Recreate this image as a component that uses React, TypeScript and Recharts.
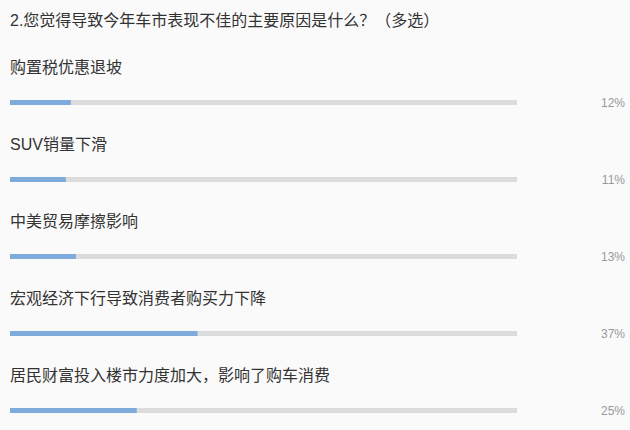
import { BarChart, Bar, XAxis, YAxis, LabelList } from 'recharts'

const categories = [
  '购置税优惠退坡',
  'SUV销量下滑',
  '中美贸易摩擦影响',
  '宏观经济下行导致消费者购买力下降',
  '居民财富投入楼市力度加大，影响了购车消费',
]
const shares = [12, 11, 13, 37, 25]
const title = '2.您觉得导致今年车市表现不佳的主要原因是什么？（多选）'

const data = categories.map((name, i) => ({ name, value: shares[i] }))

const CJK = 'Arial, "Liberation Sans", "Noto Sans CJK SC", sans-serif'

const NameLabel = (props: any) => {
  const { x, y, height, value } = props
  return (
    <text x={x} y={y + height / 2 - 30} fontSize={16} fill="#333" fontFamily={CJK}>
      {value}
    </text>
  )
}

const PctLabel = (props: any) => {
  const { y, height, value } = props
  return (
    <text
      x={625}
      y={y + height / 2 + 4}
      fontSize={12}
      fill="#999"
      textAnchor="end"
      fontFamily='Arial, "Liberation Sans", sans-serif'
    >
      {`${value}%`}
    </text>
  )
}

export default function App() {
  return (
    <div
      style={{
        position: 'absolute',
        top: 0,
        left: 0,
        width: 630,
        height: 430,
        overflow: 'hidden',
        background: '#fafafa',
      }}
    >
      <div
        style={{
          position: 'absolute',
          top: 11,
          left: 10,
          lineHeight: '20px',
          fontSize: 16,
          color: '#333',
          fontFamily: CJK,
          whiteSpace: 'nowrap',
        }}
      >
        {title}
      </div>
      <BarChart
        width={630}
        height={449}
        data={data}
        layout="vertical"
        margin={{ top: 64, right: 113, bottom: 0, left: 10 }}
      >
        <XAxis type="number" domain={[0, 100]} hide />
        <YAxis type="category" dataKey="name" hide />
        <Bar
          dataKey="value"
          fill="#7eaadc"
          barSize={5}
          background={{ fill: '#dcdcdc' }}
          isAnimationActive={false}
        >
          <LabelList dataKey="name" content={NameLabel} />
          <LabelList dataKey="value" content={PctLabel} />
        </Bar>
      </BarChart>
    </div>
  )
}
